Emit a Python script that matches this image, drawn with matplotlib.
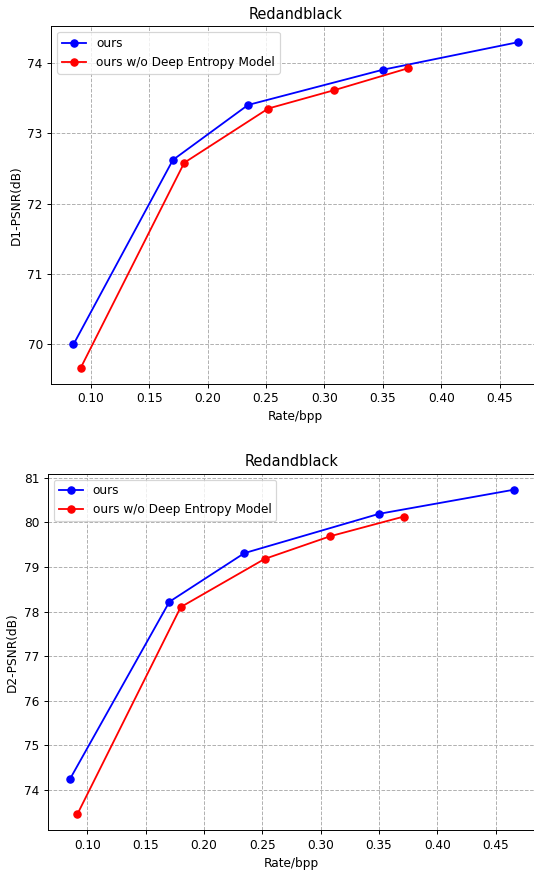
import matplotlib
matplotlib.use('Agg')
import matplotlib.pyplot as plt

# rate (bpp) and PSNR values
rate_ours = [0.0851, 0.1703, 0.2346, 0.3500, 0.4655]
d1_ours = [70.00, 72.62, 73.40, 73.90, 74.29]
d2_ours = [74.25, 78.22, 79.31, 80.19, 80.73]

rate_nodem = [0.0914, 0.1800, 0.2520, 0.3084, 0.3714]
d1_nodem = [69.67, 72.58, 73.35, 73.61, 73.92]
d2_nodem = [73.46, 78.10, 79.18, 79.69, 80.13]

labels = ['ours', 'ours w/o Deep Entropy Model']
title = 'Redandblack'


def draw(ax, y_ours, y_nodem, ylabel):
    ax.plot(rate_ours, y_ours, 'o-', color='blue', label=labels[0])
    ax.plot(rate_nodem, y_nodem, 'o-', color='red', label=labels[1])
    ax.grid(True, linestyle='--', color='#b0b0b0', linewidth=0.8)
    ax.set_axisbelow(True)
    ax.set_xlabel('Rate/bpp')
    ax.set_ylabel(ylabel)
    ax.set_title(title)
    ax.set_xticks([0.10, 0.15, 0.20, 0.25, 0.30, 0.35, 0.40, 0.45])
    ax.legend(loc='upper left')


dpi = 87
fig = plt.figure(figsize=(534 / dpi, 870 / dpi), dpi=dpi)
ax1 = fig.add_axes([0.0959, 0.5586, 0.915, 0.4115])
ax2 = fig.add_axes([0.0897, 0.0456, 0.9137, 0.4101])

draw(ax1, d1_ours, d1_nodem, 'D1-PSNR(dB)')
draw(ax2, d2_ours, d2_nodem, 'D2-PSNR(dB)')

fig.savefig('out.png', dpi=dpi)
